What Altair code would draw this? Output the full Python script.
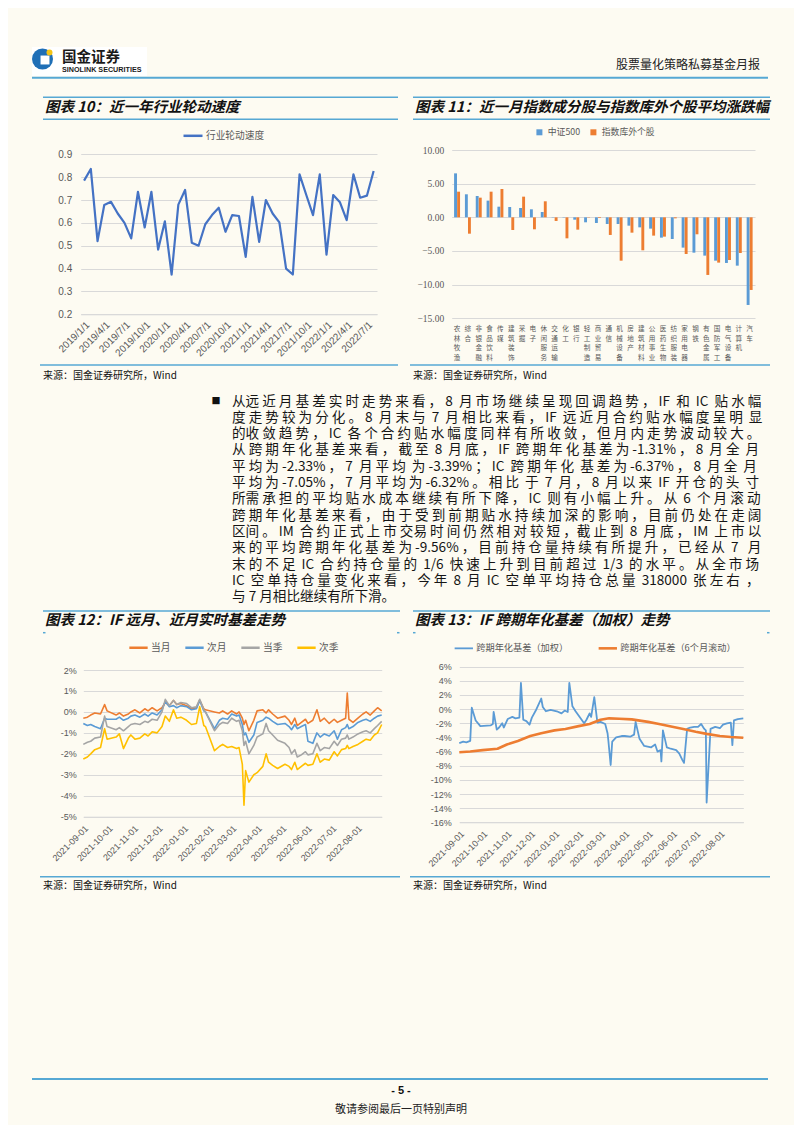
import altair as alt
import pandas as pd

# ---------------- data ----------------
rot_months = ["2019/1/1", "2019/2/1", "2019/3/1", "2019/4/1", "2019/5/1", "2019/6/1", "2019/7/1", "2019/8/1",
              "2019/9/1", "2019/10/1", "2019/11/1", "2019/12/1", "2020/1/1", "2020/2/1", "2020/3/1", "2020/4/1",
              "2020/5/1", "2020/6/1", "2020/7/1", "2020/8/1", "2020/9/1", "2020/10/1", "2020/11/1", "2020/12/1",
              "2021/1/1", "2021/2/1", "2021/3/1", "2021/4/1", "2021/5/1", "2021/6/1", "2021/7/1", "2021/8/1",
              "2021/9/1", "2021/10/1", "2021/11/1", "2021/12/1", "2022/1/1", "2022/2/1", "2022/3/1", "2022/4/1",
              "2022/5/1", "2022/6/1", "2022/7/1", "2022/8/1"]
rot_speed = [0.785, 0.836, 0.520, 0.678, 0.692, 0.641, 0.600, 0.532, 0.736, 0.580, 0.736, 0.483,
             0.607, 0.374, 0.680, 0.744, 0.513, 0.500, 0.594, 0.634, 0.666, 0.561, 0.634, 0.630,
             0.451, 0.714, 0.517, 0.700, 0.641, 0.602, 0.400, 0.374, 0.812, 0.722, 0.634, 0.812,
             0.461, 0.722, 0.690, 0.612, 0.812, 0.710, 0.719, 0.827]
rot_tick_labels = ["2019/1/1", "2019/4/1", "2019/7/1", "2019/10/1", "2020/1/1", "2020/4/1", "2020/7/1",
                   "2020/10/1", "2021/1/1", "2021/4/1", "2021/7/1", "2021/10/1", "2022/1/1", "2022/4/1", "2022/7/1"]
rot_ticks = [0.2, 0.3, 0.4, 0.5, 0.6, 0.7, 0.8, 0.9]

ind_names = ["农林牧渔", "综合", "非银金融", "食品饮料", "传媒", "建筑装饰", "采掘", "电子", "休闲服务",
             "交通运输", "化工", "银行", "轻工制造", "商业贸易", "通信", "机械设备", "房地产", "建筑材料",
             "公用事业", "医药生物", "纺织服装", "家用电器", "钢铁", "有色金属", "国防军工", "电气设备",
             "计算机", "汽车"]
csi500_ret = [6.53, 3.42, 3.17, 2.48, 1.58, 1.53, 1.39, 1.19, 0.79, 0.05, -0.05, -0.35, -0.74, -0.84,
              -0.99, -0.99, -1.24, -1.49, -1.68, -3.02, -3.22, -4.50, -5.25, -5.69, -6.44, -6.78, -7.18, -13.02]
outside_ret = [3.81, -2.43, 2.92, 3.81, 4.21, -1.88, 3.07, -1.78, 2.38, -0.54, -3.12, -1.83, -0.05, -0.10,
               -2.62, -6.44, -2.28, -4.90, -2.72, -2.87, -0.15, -5.45, -2.52, -8.56, -6.73, -6.34, -5.30, -10.79]
ret_ticks = [-15, -10, -5, 0, 5, 10]

basis_dates = ["2021-09-01", "2021-09-06", "2021-09-10", "2021-09-15", "2021-09-22", "2021-09-27", "2021-09-30",
               "2021-10-11", "2021-10-15", "2021-10-20", "2021-10-26", "2021-10-29",
               "2021-11-03", "2021-11-09", "2021-11-15", "2021-11-19", "2021-11-24", "2021-11-30",
               "2021-12-06", "2021-12-10", "2021-12-15", "2021-12-20", "2021-12-24", "2021-12-29",
               "2022-01-05", "2022-01-11", "2022-01-17", "2022-01-21", "2022-01-26", "2022-01-28",
               "2022-02-08", "2022-02-14", "2022-02-18", "2022-02-24",
               "2022-03-01", "2022-03-07", "2022-03-10", "2022-03-14", "2022-03-16", "2022-03-18", "2022-03-22", "2022-03-28",
               "2022-04-01", "2022-04-08", "2022-04-12", "2022-04-15", "2022-04-20", "2022-04-26",
               "2022-05-05", "2022-05-10", "2022-05-13", "2022-05-17", "2022-05-20", "2022-05-25", "2022-05-30",
               "2022-06-02", "2022-06-08", "2022-06-13", "2022-06-17", "2022-06-22", "2022-06-28",
               "2022-07-04", "2022-07-08", "2022-07-13", "2022-07-18", "2022-07-20", "2022-07-22", "2022-07-27",
               "2022-08-02", "2022-08-08", "2022-08-12", "2022-08-17", "2022-08-22", "2022-08-26", "2022-08-31"]
basis_m1 = [-0.30, -0.25, -0.15, -0.05, -0.10, 0.35, 0.05,
            -0.15, -0.05, -0.20, -0.10, 0.00,
            0.10, -0.05, 0.15, 0.05, 0.20, 0.05,
            0.20, 0.45, 0.30, 0.55, 0.35, 0.40,
            0.30, 0.15, 0.20, 0.55, 0.15, 0.10,
            0.00, -0.05, 0.05, -0.10,
            0.05, -0.10, 0.00, -0.30, -0.60, -0.40, -0.90, -0.40,
            0.05, 0.10, -0.05, 0.10, -0.10, -0.30,
            -0.20, -0.40, -0.60, -0.30, -0.65, -0.50, -0.35,
            -0.55, -0.40, 0.10, -0.45, -0.30, -0.55,
            -0.35, -0.50, -0.40, -0.30, 0.90, -0.35, -0.50,
            -0.30, -0.10, 0.00, -0.15, 0.05, 0.20, 0.05]
basis_m2 = [-0.55, -0.65, -0.60, -0.70, -0.80, -0.30, -0.35,
            -0.35, -0.25, -0.40, -0.30, -0.20,
            -0.15, -0.25, -0.10, -0.20, -0.05, -0.15,
            0.10, 0.50, 0.25, 0.30, 0.20, 0.30,
            0.25, 0.10, 0.15, 0.55, 0.05, 0.00,
            -0.80, -0.40, -0.30, -0.35,
            -0.10, -0.20, -0.15, -0.60, -1.10, -1.00, -1.45, -1.10,
            -0.50, -0.40, -0.25, -0.30, -0.45, -0.60,
            -0.55, -0.70, -0.85, -0.60, -0.80, -0.70, -0.60,
            -1.40, -1.50, -1.00, -1.20, -1.05, -1.15,
            -0.90, -1.30, -0.85, -0.75, -0.60, -0.80, -0.70,
            -0.50, -0.40, -0.35, -0.45, -0.30, -0.20, -0.15]
basis_q1 = [-1.55, -1.45, -1.40, -1.25, -1.20, -0.20, -0.70,
            -0.85, -0.75, -0.90, -0.70, -0.60,
            -0.55, -0.60, -0.45, -0.50, -0.35, -0.40,
            0.00, 0.60, 0.30, 0.55, 0.35, 0.45,
            0.40, 0.20, 0.25, 0.60, 0.10, 0.00,
            -0.90, -0.60, -0.50, -0.55,
            -0.30, -0.45, -0.40, -0.90, -1.60, -1.40, -2.00, -1.60,
            -1.20, -1.05, -0.55, -0.90, -1.10, -1.35,
            -1.50, -1.70, -2.00, -1.80, -2.15, -2.05, -1.90,
            -2.05, -2.00, -1.50, -1.85, -1.70, -1.75,
            -1.40, -1.60, -1.30, -1.25, -1.10, -1.30, -1.20,
            -1.05, -0.95, -0.90, -1.00, -0.80, -0.65, -0.45]
basis_q2 = [-2.25, -2.15, -2.00, -1.80, -1.70, -0.80, -1.30,
            -1.20, -1.05, -1.75, -1.25, -1.10,
            -1.30, -1.25, -1.05, -1.15, -0.95, -1.00,
            -0.70, -0.20, -0.45, 0.10, -0.30, -0.25,
            -0.40, -0.60, -0.55, 0.25, -0.65, -0.70,
            -1.85, -1.65, -1.55, -1.70,
            -1.65, -1.75, -1.70, -2.50, -4.45, -2.80, -3.35, -3.00,
            -2.90, -2.60, -2.00, -2.40, -2.55, -2.70,
            -2.50, -2.60, -2.75, -2.40, -2.75, -2.60, -2.45,
            -2.55, -2.50, -2.00, -2.40, -2.25, -2.30,
            -1.90, -2.10, -1.80, -1.75, -1.60, -1.75, -1.65,
            -1.55, -1.40, -1.30, -1.35, -1.10, -1.00, -0.60]
basis_names = ["当月", "次月", "当季", "次季"]
basis_ticks = [-5, -4, -3, -2, -1, 0, 1, 2]

ann_dates = ["2021-09-01", "2021-09-06", "2021-09-10", "2021-09-15", "2021-09-17", "2021-09-22", "2021-09-28",
             "2021-10-11", "2021-10-14", "2021-10-15", "2021-10-19", "2021-10-22", "2021-10-26", "2021-10-28",
             "2021-11-02", "2021-11-08", "2021-11-12", "2021-11-17", "2021-11-19", "2021-11-22", "2021-11-26", "2021-11-30",
             "2021-12-03", "2021-12-08", "2021-12-15", "2021-12-17", "2021-12-21", "2021-12-27",
             "2022-01-04", "2022-01-10", "2022-01-14", "2022-01-18", "2022-01-20", "2022-01-24", "2022-01-28",
             "2022-02-08", "2022-02-11", "2022-02-15", "2022-02-17", "2022-02-21", "2022-02-25",
             "2022-03-01", "2022-03-07", "2022-03-10", "2022-03-11", "2022-03-14", "2022-03-16", "2022-03-21", "2022-03-28",
             "2022-04-01", "2022-04-08", "2022-04-13", "2022-04-15", "2022-04-20", "2022-04-26",
             "2022-05-05", "2022-05-10", "2022-05-13", "2022-05-17", "2022-05-18", "2022-05-20", "2022-05-25", "2022-05-30",
             "2022-06-06", "2022-06-10", "2022-06-14", "2022-06-16", "2022-06-20", "2022-06-24", "2022-06-29",
             "2022-07-04", "2022-07-08", "2022-07-12", "2022-07-14", "2022-07-15", "2022-07-20", "2022-07-26",
             "2022-08-01", "2022-08-05", "2022-08-10", "2022-08-15", "2022-08-17", "2022-08-19", "2022-08-24", "2022-08-31"]
ann_basis = [-4.8, -4.6, -4.7, -4.5, 0.2, -1.6, -2.4,
             -2.3, -2.1, -0.4, -2.9, -2.6, -2.0, -2.6,
             -1.4, -1.1, -1.3, -1.2, 3.7, -1.5, -1.7, -2.2,
             -1.2, -0.2, 1.5, 0.3, -0.3, -0.1,
             -0.3, -0.6, -0.2, -0.4, 3.7, 0.4, -0.3,
             -2.0, -1.5, -0.6, -1.1, 1.7, -1.9,
             -1.8, -2.1, -3.4, -4.4, -7.9, -4.6, -4.0, -3.8,
             -3.8, -3.9, -3.6, -1.8, -4.2, -5.2,
             -5.4, -5.0, -6.0, -5.8, -7.4, -3.0, -5.4, -5.6,
             -5.8, -6.3, -7.2, -7.6, -2.8, -2.6, -2.5,
             -2.5, -2.1, -2.8, -3.0, -13.2, -2.8, -2.5,
             -2.7, -2.2, -2.0, -1.9, -5.1, -1.6, -1.4, -1.3]
roll_dates = ["2021-09-01", "2021-09-15", "2021-10-01", "2021-10-20", "2021-11-01", "2021-11-15", "2021-12-01",
              "2021-12-15", "2022-01-01", "2022-01-15", "2022-02-01", "2022-02-15", "2022-03-01", "2022-03-12",
              "2022-03-25", "2022-04-10", "2022-05-01", "2022-05-15", "2022-06-01", "2022-06-15", "2022-07-01",
              "2022-07-15", "2022-08-01", "2022-08-15", "2022-08-31"]
roll_basis = [-6.1, -6.0, -5.8, -5.6, -5.0, -4.5, -3.8, -3.4, -3.0, -2.8, -2.4, -2.1, -1.5, -1.3,
              -1.35, -1.45, -1.8, -2.1, -2.5, -2.8, -3.2, -3.5, -3.8, -3.95, -4.05]
ann_names = ["跨期年化基差（加权）", "跨期年化基差（6个月滚动）"]
ann_ticks = [-16, -14, -12, -10, -8, -6, -4, -2, 0, 2, 4, 6]

paragraph_lines = [
    "从远近月基差实时走势来看，8 月市场继续呈现回调趋势，IF 和 IC 贴水幅",
    "度走势较为分化。8 月末与 7 月相比来看，IF 远近月合约贴水幅度呈明显",
    "的收敛趋势，IC 各个合约贴水幅度同样有所收敛，但月内走势波动较大。",
    "从跨期年化基差来看，截至 8 月底，IF 跨期年化基差为-1.31%，8 月全月",
    "平均为-2.33%，7 月平均为-3.39%；IC 跨期年化基差为-6.37%，8 月全月",
    "平均为-7.05%，7 月平均为-6.32%。相比于 7 月，8 月以来 IF 开仓的头寸",
    "所需承担的平均贴水成本继续有所下降，IC 则有小幅上升。从 6 个月滚动",
    "跨期年化基差来看，由于受到前期贴水持续加深的影响，目前仍处在走阔",
    "区间。IM 合约正式上市交易时间仍然相对较短，截止到 8 月底，IM 上市以",
    "来的平均跨期年化基差为-9.56%，目前持仓量持续有所提升，已经从 7 月",
    "末的不足 IC 合约持仓量的 1/6 快速上升到目前超过 1/3 的水平。从全市场",
    "IC 空单持仓量变化来看，今年 8 月 IC 空单平均持仓总量 318000 张左右，",
    "与 7 月相比继续有所下滑。",
]

# ---------------- styling ----------------
W, H = 786, 1117
CJK = "Noto Sans CJK SC"
LAT = "Liberation Sans"
RULE = "#56a8d4"
BG = "#fdfbf2"
GRID = "#d9d9d9"
LAB = "#595959"
PARA_FS = 13.6
PARA_W = 530.0
SPACE_EM = 0.224


def P(v):
    return v - 8


one = pd.DataFrame({"k": [0]})


def hrule(x1, x2, y, color=RULE, w=1.5):
    return alt.Chart(one).mark_rule(color=color, strokeWidth=w).encode(
        x=alt.value(P(x1)), x2=alt.value(P(x2)), y=alt.value(P(y)))


def label(s, x, y, size, color="#111111", font=CJK, weight="normal", style="normal",
          align="left", baseline="middle", line_height=None):
    kw = dict(font=font, fontSize=size, color=color, fontWeight=weight, fontStyle=style,
              align=align, baseline=baseline)
    if line_height is not None:
        kw.update(lineBreak="\n", lineHeight=line_height)
    return alt.Chart(one).mark_text(**kw).encode(
        x=alt.value(P(x)), y=alt.value(P(y)), text=alt.value(s))


# --- approximate full justification: pad word gaps with no-break spaces ---
ASCII_EM = {"I": 0.30, "F": 0.55, "C": 0.62, "M": 0.86, "%": 0.90, "-": 0.36, ".": 0.30, "/": 0.40}


def token_em(tok):
    if ord(tok[0]) > 127:
        return 1.0
    return sum(ASCII_EM.get(c, 0.58) for c in tok)


def tokenize(line):
    toks, buf, pending = [], "", False
    for ch in line:
        if ch == " ":
            if buf:
                toks.append((buf, pending))
                buf, pending = "", False
            pending = True
        elif ord(ch) < 128:
            buf += ch
        else:
            if buf:
                toks.append((buf, pending))
                buf, pending = "", False
            toks.append((ch, pending))
            pending = False
    if buf:
        toks.append((buf, pending))
    return toks


def justify(line):
    toks = tokenize(line)
    natural = sum(token_em(t) for t, _ in toks) * PARA_FS + sum(1 for _, s in toks if s) * SPACE_EM * PARA_FS
    n_fill = max(0, int(round((PARA_W - natural) / (SPACE_EM * PARA_FS))))
    gaps = len(toks) - 1
    out = toks[0][0]
    for i in range(1, len(toks)):
        k = (i * n_fill) // gaps - ((i - 1) * n_fill) // gaps
        t, sp = toks[i]
        out += (" " if sp else "") + "\u00a0" * k + t
    return out


para_text = "\n".join([justify(l) for l in paragraph_lines[:-1]] + [paragraph_lines[-1]])

layers = []

# ---------- header ----------
layers.append(alt.Chart(one).mark_rect(color="#ffffff").encode(
    x=alt.value(P(32)), x2=alt.value(P(147)), y=alt.value(P(47)), y2=alt.value(P(76))))
layers.append(alt.Chart(one).mark_point(filled=True, shape="circle", color="#1f6fb6", opacity=1, size=441).encode(
    x=alt.value(P(42.5)), y=alt.value(P(59))))
layers.append(alt.Chart(one).mark_point(filled=True, shape="square", color="#ffffff", opacity=1, size=80).encode(
    x=alt.value(P(45)), y=alt.value(P(60))))
layers.append(alt.Chart(one).mark_point(filled=True, shape="circle", color="#f3c316", opacity=1, size=36).encode(
    x=alt.value(P(49.5)), y=alt.value(P(52.5))))
layers.append(label("国金证券", 62, 57.5, 14.5, color="#1a1a1a", weight="bold"))
layers.append(label("SINOLINK SECURITIES", 62, 69.5, 7.2, color="#1a1a1a", font=LAT, weight="bold"))
layers.append(label("股票量化策略私募基金月报", 760, 65, 12, color="#222222", align="right"))
layers.append(hrule(32, 768, 77.7, w=2))

# ---------- chart titles / frames ----------
for x1, x2, tx, t in [(43, 398, 45, "图表 10：近一年行业轮动速度"),
                      (413, 770, 415, "图表 11：近一月指数成分股与指数库外个股平均涨跌幅")]:
    layers.append(hrule(x1, x2, 97.3))
    layers.append(hrule(x1, x2, 119.3))
    layers.append(label(t, tx, 108.3, 14.5, color="#111111", weight="bold", style="italic"))
    layers.append(hrule(x1 - 3, x2, 365))
    layers.append(label("来源：国金证券研究所，Wind", tx - 2, 375.5, 10, color="#111111"))

for x1, x2, tx, t in [(43, 400, 45, "图表 12：IF 远月、近月实时基差走势"),
                      (413, 770, 415, "图表 13：IF 跨期年化基差（加权）走势")]:
    layers.append(hrule(x1, x2, 611))
    layers.append(hrule(x1, x1 + 2.5, 632.7))
    layers.append(hrule(x2 - 3, x2 - 0.5, 632.7))
    layers.append(label(t, tx, 621, 14.5, color="#111111", weight="bold", style="italic"))
    layers.append(hrule(x1 - 3, x2, 876.7))
    layers.append(label("来源：国金证券研究所，Wind", tx - 2, 885.5, 10, color="#111111"))

# ---------- paragraph ----------
layers.append(label("■", 216, 401, 9, color="#111111", align="center"))
layers.append(label(para_text, 232, 394.5, PARA_FS, color="#151515", baseline="top", line_height=16.33))

# ---------- footer ----------
layers.append(hrule(32, 768, 1079, w=2))
layers.append(label("- 5 -", 401, 1091, 11, color="#111111", font=LAT, weight="bold", align="center"))
layers.append(label("敬请参阅最后一页特别声明", 401, 1110, 11, color="#222222", align="center"))

# ---------- chart 10 ----------
df10 = pd.DataFrame({"month": rot_months, "speed": rot_speed, "series": "行业轮动速度"})
c10 = alt.Chart(df10).mark_line(strokeWidth=2.2, strokeJoin="round").encode(
    x=alt.X("month:N", sort=None,
            scale=alt.Scale(type="point", padding=0.5, range=[P(80.7), P(377)]),
            axis=alt.Axis(orient="bottom", offset=P(314.3) - H, values=rot_tick_labels, labelAngle=-45,
                          labelFont=LAT, labelFontSize=10, labelColor=LAB, labelPadding=5,
                          labelOverlap=False, domain=True, domainColor=GRID, ticks=False, grid=False,
                          title=None)),
    y=alt.Y("speed:Q",
            scale=alt.Scale(domain=[0.2, 0.9], range=[P(314.3), P(154.3)], nice=False),
            axis=alt.Axis(orient="left", offset=-P(80.7), values=rot_ticks, format=".1f",
                          labelFont=LAT, labelFontSize=10, labelColor=LAB, labelPadding=9,
                          domain=False, ticks=False, grid=True, gridColor=GRID, title=None)),
    color=alt.Color("series:N", scale=alt.Scale(domain=["行业轮动速度"], range=["#4472c4"]),
                    legend=alt.Legend(orient="none", legendX=P(182), legendY=P(134.3) - 9.5, title=None,
                                      symbolType="stroke", symbolSize=361, symbolStrokeWidth=2.5,
                                      labelFont=CJK, labelFontSize=9.7, labelColor=LAB, labelOffset=2,
                                      padding=0)),
)
layers.append(c10)

# ---------- chart 11 ----------
df11 = pd.DataFrame({
    "ind": ind_names * 2,
    "ret": csi500_ret + outside_ret,
    "series": ["中证500"] * len(ind_names) + ["指数库外个股"] * len(ind_names),
})
x11 = alt.X("ind:N", sort=ind_names,
            scale=alt.Scale(range=[P(451.7), P(755)], paddingInner=0.45, paddingOuter=0.22),
            axis=None)
bars11 = alt.Chart(df11).mark_bar().encode(
    x=x11,
    xOffset=alt.XOffset("series:N", sort=["中证500", "指数库外个股"], scale=alt.Scale(paddingInner=0.05)),
    y=alt.Y("ret:Q",
            scale=alt.Scale(domain=[-15, 10], range=[P(318.3), P(150)], nice=False),
            axis=alt.Axis(orient="left", offset=-P(451.7), values=ret_ticks, format=".2f",
                          labelFont="Liberation Serif", labelFontSize=9.5, labelColor=LAB, labelPadding=8,
                          domain=False, ticks=False, grid=True, gridColor=GRID, title=None)),
    y2=alt.datum(0),
    color=alt.Color("series:N", sort=["中证500", "指数库外个股"],
                    scale=alt.Scale(domain=["中证500", "指数库外个股"], range=["#5b9bd5", "#ed7d31"]),
                    legend=alt.Legend(orient="none", legendX=P(535), legendY=P(133) - 5.5, title=None,
                                      direction="horizontal", symbolType="square", symbolSize=36,
                                      symbolStrokeWidth=0, labelFont=CJK, labelFontSize=8.8,
                                      labelColor=LAB, labelOffset=4, columnPadding=8, padding=0)),
)
# vertical category labels: one character per row, placed on the same band scale
lab_rows = [{"ind": n, "pos": i, "ch": c} for n in ind_names for i, c in enumerate(n)]
df11l = pd.DataFrame(lab_rows)
labels11 = alt.Chart(df11l).mark_text(font=CJK, fontSize=6.6, color=LAB, baseline="middle", align="center").encode(
    x=x11,
    y=alt.Y("pos:O", scale=alt.Scale(type="point", domain=[0, 1, 2, 3], range=[P(329.0), P(357.8)], padding=0),
            axis=None),
    text="ch:N",
)
c11 = alt.layer(bars11, labels11).resolve_scale(y="independent")
layers.append(c11)

# ---------- chart 12 ----------
rows12 = []
for name, vals in zip(basis_names, [basis_m1, basis_m2, basis_q1, basis_q2]):
    for d, v in zip(basis_dates, vals):
        rows12.append({"date": d + "T00:00:00", "basis": v, "series": name})
df12 = pd.DataFrame(rows12)
c12 = alt.Chart(df12).mark_line(strokeWidth=1.6, strokeJoin="round").encode(
    x=alt.X("date:T",
            scale=alt.Scale(domain=[alt.DateTime(year=2021, month=9, date=1),
                                    alt.DateTime(year=2022, month=8, date=31)],
                            range=[P(83.3), P(381.7)], nice=False),
            axis=alt.Axis(orient="bottom", offset=P(816.7) - H, format="%Y-%m-%d",
                          tickCount=alt.TimeIntervalStep(interval="month", step=1), labelAngle=-45,
                          labelFont=LAT, labelFontSize=9, labelColor=LAB, labelPadding=7,
                          labelOverlap=False, labelFlush=False, domain=True, domainColor=GRID,
                          ticks=False, grid=False, title=None)),
    y=alt.Y("basis:Q",
            scale=alt.Scale(domain=[-5, 2], range=[P(816.7), P(670)], nice=False),
            axis=alt.Axis(orient="left", offset=-P(83.3), values=basis_ticks, labelExpr="datum.value + '%'",
                          labelFont=LAT, labelFontSize=9, labelColor=LAB, labelPadding=7,
                          domain=False, ticks=False, grid=True, gridColor=GRID, title=None)),
    color=alt.Color("series:N", sort=basis_names,
                    scale=alt.Scale(domain=basis_names, range=["#ed7d31", "#5b9bd5", "#a5a5a5", "#ffc000"]),
                    legend=alt.Legend(orient="none", legendX=P(128), legendY=P(646) - 9, title=None,
                                      direction="horizontal", symbolType="stroke", symbolSize=336,
                                      symbolStrokeWidth=2.5, labelFont=CJK, labelFontSize=9.7,
                                      labelColor=LAB, labelOffset=2, columnPadding=9, padding=0)),
)
layers.append(c12)

# ---------- chart 13 ----------
rows13 = [{"date": d + "T00:00:00", "basis": v, "series": ann_names[0]} for d, v in zip(ann_dates, ann_basis)]
rows13 += [{"date": d + "T00:00:00", "basis": v, "series": ann_names[1]} for d, v in zip(roll_dates, roll_basis)]
df13 = pd.DataFrame(rows13)
c13 = alt.Chart(df13).mark_line(strokeJoin="round").encode(
    x=alt.X("date:T",
            scale=alt.Scale(domain=[alt.DateTime(year=2021, month=9, date=1),
                                    alt.DateTime(year=2022, month=8, date=31)],
                            range=[P(459.3), P(743.3)], nice=False),
            axis=alt.Axis(orient="bottom", offset=P(822.3) - H, format="%Y-%m-%d",
                          tickCount=alt.TimeIntervalStep(interval="month", step=1), labelAngle=-45,
                          labelFont=LAT, labelFontSize=9, labelColor=LAB, labelPadding=7,
                          labelOverlap=False, labelFlush=False, domain=True, domainColor=GRID,
                          ticks=False, grid=False, title=None)),
    y=alt.Y("basis:Q",
            scale=alt.Scale(domain=[-16, 6], range=[P(822.3), P(666.7)], nice=False),
            axis=alt.Axis(orient="left", offset=-P(459.3), values=ann_ticks, labelExpr="datum.value + '%'",
                          labelFont=LAT, labelFontSize=9, labelColor=LAB, labelPadding=8,
                          domain=False, ticks=False, grid=True, gridColor=GRID, title=None)),
    color=alt.Color("series:N", sort=ann_names,
                    scale=alt.Scale(domain=ann_names, range=["#5b9bd5", "#ed7d31"]),
                    legend=alt.Legend(orient="none", legendX=P(453.3), legendY=P(646.7) - 9, title=None,
                                      direction="horizontal", symbolType="stroke", symbolSize=336,
                                      symbolStrokeWidth=2.5, labelFont=CJK, labelFontSize=9.2,
                                      labelColor=LAB, labelOffset=2, columnPadding=25, padding=0)),
    strokeWidth=alt.StrokeWidth("series:N", sort=ann_names,
                                scale=alt.Scale(domain=ann_names, range=[1.8, 2.6]), legend=None),
)
layers.append(c13)

chart = alt.layer(*layers).resolve_scale(
    x="independent", y="independent", color="independent", strokeWidth="independent", xOffset="independent"
).resolve_axis(
    x="independent", y="independent"
).resolve_legend(
    color="independent"
).properties(
    width=W, height=H, padding=0, autosize=alt.AutoSizeParams(type="none")
).configure(
    background=BG
).configure_view(
    strokeWidth=0
)

chart.save("out.html", embed_options={"renderer": "svg", "actions": False})
